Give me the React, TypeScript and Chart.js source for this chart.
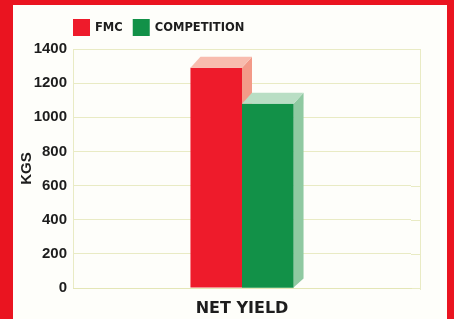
import React, { useEffect, useRef } from "react";
import { Chart, registerables } from "chart.js";

Chart.register(...registerables);

const categories = ["NET YIELD"];
const seriesNames = ["FMC", "COMPETITION"];
const fmcValues = [1290];
const competitionValues = [1080];
const yMin = 0;
const yMax = 1400;
const yStep = 200;

const RED = "#ee1b2b";
const GREEN = "#129148";
const RED_SIDE = "#f39a88";
const RED_TOP = "#f8bcae";
const GREEN_SIDE = "#8fc9a1";
const GREEN_TOP = "#b9dec4";
const BORDER_RED = "#ea1420";
const PAPER = "#fefefa";
const GRID = "rgba(226,228,178,0.75)";
const INK = "#1d1d1d";

const DX = 10;
const DY = 11;
const WALL_RIGHT = 420;

const framePlugin = {
  id: "frame",
  beforeDraw(chart: any) {
    const { ctx, width, height } = chart;
    ctx.save();
    ctx.fillStyle = BORDER_RED;
    ctx.fillRect(0, 0, width, height);
    ctx.fillStyle = PAPER;
    ctx.fillRect(13, 5, 434, height - 5);
    const ca = chart.chartArea;
    const ys = chart.scales.y;
    ctx.strokeStyle = GRID;
    ctx.lineWidth = 1;
    ys.ticks.forEach((t: any) => {
      const py = Math.round(ys.getPixelForValue(t.value)) + 0.5;
      ctx.beginPath();
      ctx.moveTo(ca.right, py);
      ctx.lineTo(WALL_RIGHT, py);
      ctx.stroke();
    });
    ctx.beginPath();
    ctx.moveTo(WALL_RIGHT + 0.5, ca.top);
    ctx.lineTo(WALL_RIGHT + 0.5, ca.bottom + 2);
    ctx.stroke();
    ctx.restore();
  },
};

function draw3D(ctx: any, el: any, side: string, top: string) {
  const { x, y, base, width } = el.getProps(["x", "y", "base", "width"], true);
  const l = x - width / 2;
  const r = x + width / 2;
  ctx.fillStyle = side;
  ctx.beginPath();
  ctx.moveTo(r, y);
  ctx.lineTo(r + DX, y - DY);
  ctx.lineTo(r + DX, base - DY + 2);
  ctx.lineTo(r, base);
  ctx.closePath();
  ctx.fill();
  ctx.fillStyle = top;
  ctx.beginPath();
  ctx.moveTo(l, y);
  ctx.lineTo(l + DX, y - DY);
  ctx.lineTo(r + DX, y - DY);
  ctx.lineTo(r, y);
  ctx.closePath();
  ctx.fill();
}

const bar3dPlugin = {
  id: "bar3d",
  afterDatasetsDraw(chart: any) {
    const { ctx } = chart;
    ctx.save();
    const redEls = chart.getDatasetMeta(0).data;
    const greenEls = chart.getDatasetMeta(1).data;
    redEls.forEach((el: any) => draw3D(ctx, el, RED_SIDE, RED_TOP));
    greenEls.forEach((el: any) => {
      el.draw(ctx);
      draw3D(ctx, el, GREEN_SIDE, GREEN_TOP);
    });
    ctx.restore();
  },
};

const legendPlugin = {
  id: "customLegend",
  afterDraw(chart: any) {
    const { ctx } = chart;
    ctx.save();
    ctx.font = "bold 11.5px 'DejaVu Sans'";
    ctx.textBaseline = "middle";
    ctx.textAlign = "left";
    let x = 73;
    const colors = [RED, GREEN];
    seriesNames.forEach((name, i) => {
      ctx.fillStyle = colors[i];
      ctx.fillRect(x, 19, 17, 17);
      x += 17 + 5;
      ctx.fillStyle = INK;
      ctx.fillText(name, x, 28.5);
      x += ctx.measureText(name).width + 10;
    });
    ctx.restore();
  },
};

export default function App() {
  const ref = useRef<HTMLCanvasElement>(null);
  useEffect(() => {
    if (!ref.current) return;
    const chart = new Chart(ref.current, {
      type: "bar",
      data: {
        labels: categories,
        datasets: [
          {
            label: seriesNames[0],
            data: fmcValues,
            backgroundColor: RED,
            borderWidth: 0,
          },
          {
            label: seriesNames[1],
            data: competitionValues,
            backgroundColor: GREEN,
            borderWidth: 0,
          },
        ],
      },
      plugins: [framePlugin, bar3dPlugin, legendPlugin],
      options: {
        animation: false,
        responsive: false,
        devicePixelRatio: 1,
        layout: { padding: { left: 14, right: 43, top: 49, bottom: 0 } },
        datasets: {
          bar: { barPercentage: 1, categoryPercentage: 0.305 },
        },
        plugins: {
          legend: { display: false },
          tooltip: { enabled: false },
        },
        scales: {
          x: {
            grid: { display: false, drawTicks: false },
            border: { display: true, color: GRID },
            ticks: {
              color: INK,
              padding: 11,
              font: { family: "'DejaVu Sans'", weight: "bold", size: 16 },
            },
            afterFit: (s: any) => {
              s.height = 31;
            },
          },
          y: {
            min: yMin,
            max: yMax,
            grid: { color: GRID, drawTicks: false },
            border: { display: true, color: GRID },
            ticks: {
              stepSize: yStep,
              color: INK,
              padding: 6,
              font: { family: "'Liberation Sans'", weight: "bold", size: 15 },
              callback: (v: any) => String(v),
            },
            title: {
              display: true,
              text: "KGS",
              color: INK,
              padding: { top: 4, bottom: 0 },
              font: { family: "'Liberation Sans'", weight: "bold", size: 15 },
            },
            afterFit: (s: any) => {
              s.width = 59;
            },
          },
        },
      },
    });
    return () => chart.destroy();
  }, []);
  return (
    <div style={{ position: "absolute", left: 0, top: 0, width: 454, height: 319 }}>
      <canvas ref={ref} width={454} height={319} style={{ display: "block" }} />
    </div>
  );
}
